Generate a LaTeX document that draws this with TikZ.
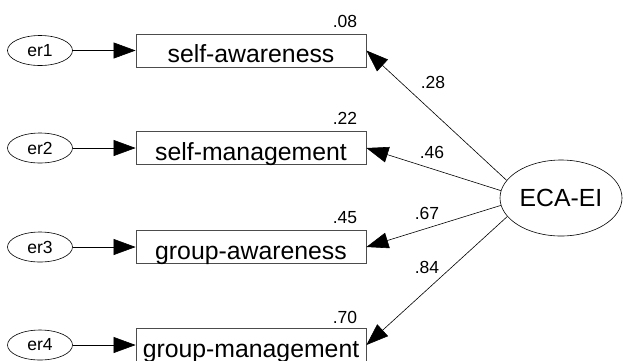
\documentclass[tikz,border=0pt]{standalone}
\usepackage{fontspec}
\setmainfont{Liberation Sans}
\usetikzlibrary{arrows.meta,shapes.geometric}
\begin{document}
\begin{tikzpicture}[x=1pt, y=-1pt,
  every node/.style={font=\fontsize{17.5}{18}\selectfont},
  obs/.style={draw=black!70, line width=0.8pt, minimum width=230pt, minimum height=33pt,
    inner sep=0pt, text height=24pt, text depth=0pt, font=\fontsize{24.8}{26}\selectfont},
  err/.style={draw, ellipse, line width=0.6pt, minimum width=65pt, minimum height=30pt, inner sep=0pt},
  reg/.style={line width=0.6pt, -{Triangle[length=22pt,width=16pt]}}]
\useasboundingbox (0,0) rectangle (623,360);
% observed variables
\node[obs] (sa) at (251,50.5) {self-awareness};
\node[obs] (sm) at (251,148) {self-management};
\node[obs] (ga) at (251,247) {group-awareness};
\node[obs] (gm) at (251,345) {group-management};
% error terms
\node[err] (er1) at (40,50.5) {er1};
\node[err] (er2) at (40,148) {er2};
\node[err] (er3) at (40,247) {er3};
\node[err] (er4) at (40,345) {er4};
% latent factor
\node[draw, ellipse, line width=0.6pt, minimum width=122pt, minimum height=76pt, inner sep=0pt,
  font=\fontsize{24.8}{26}\selectfont] (eca) at (561,198) {ECA-EI};
\draw[reg] (er1) -- (sa);
\draw[reg] (er2) -- (sm);
\draw[reg] (er3) -- (ga);
\draw[reg] (er4) -- (gm);
\draw[reg] (eca.162) -- (sa.east);
\draw[reg] (eca.173) -- (sm.east);
\draw[reg] (eca.187) -- (ga.east);
\draw[reg] (eca.199) -- (gm.east);
% squared multiple correlations
\node (v1) at (345,21) {.08};
\node (v2) at (345,118) {.22};
\node (v3) at (345,218) {.45};
\node (v4) at (345,317) {.70};
% loadings
\node (l1) at (433,82) {.28};
\node (l2) at (432,152) {.46};
\node (l3) at (427,213) {.67};
\node (l4) at (427,267) {.84};
\end{tikzpicture}
\end{document}
